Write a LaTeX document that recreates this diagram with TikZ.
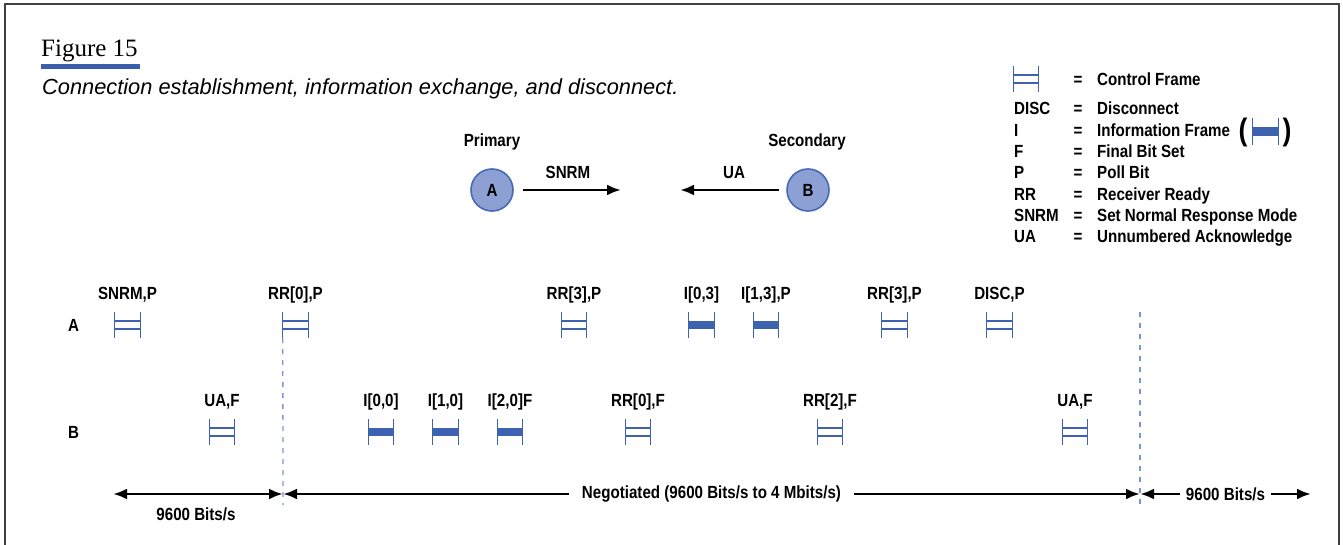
\documentclass[tikz,border=0pt]{standalone}
\usepackage{fontspec}
\setmainfont{Liberation Sans}
\newfontfamily\lblfont{Liberation Sans}[FakeStretch=0.86]
\newfontfamily\titlefont{Liberation Serif}
\usetikzlibrary{arrows.meta}

\definecolor{frameblue}{RGB}{61,98,176}
\definecolor{dashblue}{RGB}{120,150,215}
\definecolor{circfill}{RGB}{140,160,212}
\definecolor{circline}{RGB}{72,105,180}
\definecolor{barblue}{RGB}{58,95,170}

\tikzset{
  lbl/.style={font=\lblfont\bfseries\fontsize{17.6}{20}\selectfont, inner sep=0pt, anchor=base},
  slot/.style={inner sep=0pt, minimum width=25pt, minimum height=26pt},
  symb/.style={draw=frameblue, line width=1.3pt},
  infobar/.style={draw=frameblue, line width=8.5pt},
  flow/.style={line width=2.9pt, -{Latex[length=14pt,width=11pt]}},
  span/.style={line width=2.9pt, {Latex[length=14pt,width=11pt]}-{Latex[length=14pt,width=11pt]}},
  guide/.style={draw=dashblue, line width=1.3pt, dash pattern=on 5pt off 6pt},
  station/.style={circle, draw=circline, fill=circfill, line width=1.6pt,
    minimum size=42pt, inner sep=0pt, font=\lblfont\bfseries\fontsize{17.6}{20}\selectfont},
  border/.style={draw=black!75, line width=1.2pt},
}

% control frame: two ticks joined by two thin rails
\newcommand\ctrlmark[1]{%
  \draw[symb] (#1.north west) -- (#1.south west) (#1.north east) -- (#1.south east)
    ([yshift=4pt]#1.west) -- ([yshift=4pt]#1.east)
    ([yshift=-4pt]#1.west) -- ([yshift=-4pt]#1.east);}
% information frame: two ticks joined by a solid bar
\newcommand\infomark[1]{%
  \draw[infobar] (#1.west) -- (#1.east);
  \draw[symb] (#1.north west) -- (#1.south west) (#1.north east) -- (#1.south east);}

\begin{document}
\begin{tikzpicture}[x=1pt, y=-1pt]
\useasboundingbox (0,0) rectangle (1343,545);

% outer frame, open at the bottom
\draw[border] (5,545) -- (5,4) -- (1339,4) -- (1339,545);

% heading
\node[font=\titlefont\fontsize{25}{28}\selectfont, anchor=base west, inner sep=0pt] (fig) at (41,57) {Figure 15};
\fill[barblue] (41,64) rectangle (140,69);
\node[font=\itshape\fontsize{21.8}{24}\selectfont, anchor=base west, inner sep=0pt] (cap) at (42,95)
  {Connection establishment, information exchange, and disconnect.};

% legend
\node[slot] (lgC) at (1026,79) {};
\ctrlmark{lgC}
\node[lbl, anchor=base] (lgCeq) at (1078,86) {=};
\node[lbl, anchor=base west] (lgCt) at (1097,86) {Control Frame};
\foreach \n/\ab/\txt/\yy in {1/DISC/Disconnect/115, 2/I/Information Frame/136.3, 3/F/Final Bit Set/157.6,
    4/P/Poll Bit/178.9, 5/RR/Receiver Ready/200.2, 6/SNRM/Set Normal Response Mode/221.5,
    7/UA/Unnumbered Acknowledge/242.8} {
  \node[lbl, anchor=base west] (lgK\n) at (1014,\yy) {\ab};
  \node[lbl, anchor=base] (lgE\n) at (1078,\yy) {=};
  \node[lbl, anchor=base west] (lgT\n) at (1097,\yy) {\txt};
}
\node[font=\lblfont\bfseries\fontsize{31}{32}\selectfont, inner sep=0pt] (lgPo) at (1243,132) {(};
\node[slot, minimum height=27pt] (lgI) at (1265.5,131.5) {};
\infomark{lgI}
\node[font=\lblfont\bfseries\fontsize{31}{32}\selectfont, inner sep=0pt] (lgPc) at (1287,132) {)};

% stations
\node[lbl] (prim) at (492,147) {Primary};
\node[lbl] (sec) at (807,147) {Secondary};
\node[station] (stA) at (492,190) {A};
\node[station] (stB) at (808,190) {B};
\coordinate (snrmTip) at (621,190);
\coordinate (uaTip) at (680,190);
\draw[flow, shorten <=9pt] (stA) -- (snrmTip);
\draw[flow, shorten <=7pt] (stB) -- (uaTip);
\node[lbl] (snrmL) at (568,179) {SNRM};
\node[lbl] (uaL) at (734,179) {UA};

% row names
\node[lbl, anchor=west] (rowA) at (68,325) {A};
\node[lbl, anchor=west] (rowB) at (68,432) {B};

% control frames
\foreach \n/\x/\y/\t in {sA1/127.5/325/{SNRM,P}, sA2/295.5/325/{RR[0],P}, sA3/574/325/{RR[3],P},
    sA6/894.5/325/{RR[3],P}, sA7/999.5/325/{DISC,P},
    sB1/222/432/{UA,F}, sB5/638/432/{RR[0],F}, sB6/830/432/{RR[2],F}, sB7/1075/432/{UA,F}} {
  \node[slot] (\n) at (\x,\y) {};
  \ctrlmark{\n}
  \node[lbl] (l\n) at ([yshift=26pt]\n.center) {\t};
}
% information frames
\foreach \n/\x/\y/\t in {sA4/701.5/325/{I[0,3]}, sA5/766/325/{I[1,3],P},
    sB2/381/432/{I[0,0]}, sB3/445.5/432/{I[1,0]}, sB4/510/432/{I[2,0]F}} {
  \node[slot] (\n) at (\x,\y) {};
  \infomark{\n}
  \node[lbl] (l\n) at ([yshift=26pt]\n.center) {\t};
}

% rate change guides
\coordinate (g1b) at (283,505);
\coordinate (g2t) at (1140,312);
\coordinate (g2b) at (1140,505);
\draw[guide] (sA2.south west) -- (g1b);
\draw[guide] (g2t) -- (g2b);

% line rates
\coordinate (r0) at (113,494);
\coordinate (r1) at (283,494);
\coordinate (r2) at (1140,494);
\coordinate (r3) at (1311,494);
\draw[span] (r0) -- (r1);
\node[lbl] (rateL) at (196,520) {9600 Bits/s};
\draw[span] (r1) -- node[lbl, anchor=center, fill=white, inner xsep=13pt, inner ysep=3pt] (rateM)
  {Negotiated (9600 Bits/s to 4 Mbits/s)} (r2);
\draw[span] (r2) -- node[lbl, anchor=center, fill=white, inner xsep=6pt, inner ysep=3pt] (rateR)
  {9600 Bits/s} (r3);
\end{tikzpicture}
\end{document}
